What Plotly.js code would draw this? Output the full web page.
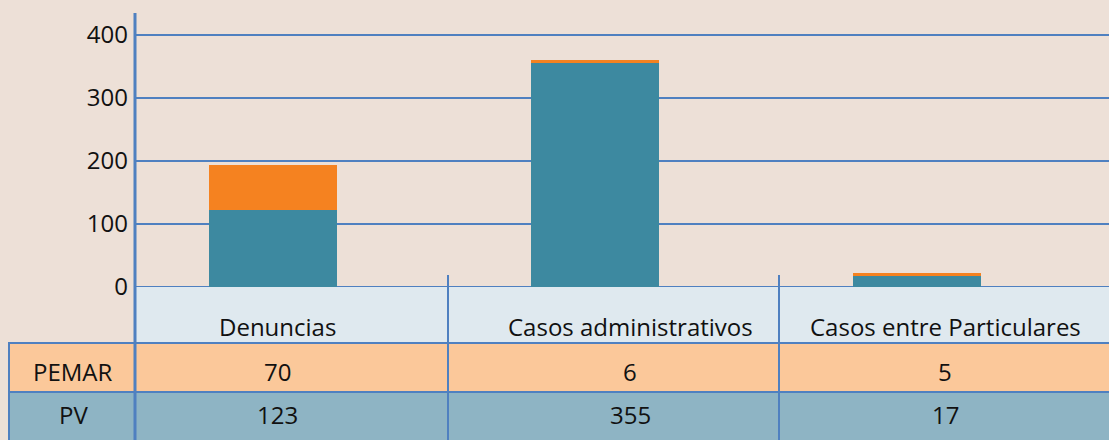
<!DOCTYPE html>
<html><head><meta charset="utf-8">
<script src="https://cdn.plot.ly/plotly-3.0.1.min.js"></script>
<style>html,body{margin:0;padding:0;background:#ede0d7;}#chart{width:1109px;height:440px;}</style>
</head><body><div id="chart"></div>
<script>
var categories = ["Denuncias", "Casos administrativos", "Casos entre Particulares"];
var seriesNames = ["PEMAR", "PV"];
var pvValues = [123, 355, 17];
var pemarValues = [70, 6, 5];
var yTicks = [0, 100, 200, 300, 400];

var W = 1109, H = 440, L = 135, T = 13, B = 153;
var pw = W - L, ph = H - T - B;
function px(x){ return (x - L) / pw; }
function py(y){ return (H - B - y) / ph; }

var blue = "#4f80c0";
var FONT = "Open Sans, Noto Sans, sans-serif";
var colTextX = [277, 630, 945];
var rowY = {header: 326, PEMAR: 371, PV: 415};

var traces = [
  {type: "bar", name: "PV", x: categories, y: pvValues, marker: {color: "#3d89a0"}, hoverinfo: "x+y+name"},
  {type: "bar", name: "PEMAR", x: categories, y: pemarValues, marker: {color: "#f58220"}, hoverinfo: "x+y+name"}
];

var shapes = [];
shapes.push({type: "rect", xref: "paper", yref: "paper", x0: 0, x1: 1, y0: py(343), y1: 0, fillcolor: "#dfe9ef", line: {width: 0}});
shapes.push({type: "rect", xref: "paper", yref: "paper", x0: px(8), x1: 1, y0: py(392), y1: py(343), fillcolor: "#fbc89a", line: {width: 0}});
shapes.push({type: "rect", xref: "paper", yref: "paper", x0: px(8), x1: 1, y0: py(440), y1: py(392), fillcolor: "#8eb4c4", line: {width: 0}});
[343, 392].forEach(function(yy){
  shapes.push({type: "line", xref: "paper", yref: "paper", x0: px(8), x1: 1, y0: py(yy), y1: py(yy), line: {color: blue, width: 2}});
});
shapes.push({type: "line", xref: "paper", yref: "paper", x0: px(9), x1: px(9), y0: py(440), y1: py(343), line: {color: blue, width: 2}});
shapes.push({type: "line", xref: "paper", yref: "paper", x0: 0, x1: 0, y0: py(440), y1: 1, line: {color: blue, width: 3}});
[448, 779].forEach(function(xx){
  shapes.push({type: "line", xref: "paper", yref: "paper", x0: px(xx), x1: px(xx), y0: py(440), y1: py(275), line: {color: blue, width: 2}});
});

var annotations = [];
var tf = {family: FONT, size: 24, color: "#111111"};
categories.forEach(function(c, i){
  annotations.push({xref: "paper", yref: "paper", x: px(colTextX[i]), y: py(rowY.header), text: c, showarrow: false, font: tf, xanchor: "center", yanchor: "middle"});
  annotations.push({xref: "paper", yref: "paper", x: px(colTextX[i]), y: py(rowY.PEMAR), text: String(pemarValues[i]), showarrow: false, font: tf, xanchor: "center", yanchor: "middle"});
  annotations.push({xref: "paper", yref: "paper", x: px(colTextX[i]), y: py(rowY.PV), text: String(pvValues[i]), showarrow: false, font: tf, xanchor: "center", yanchor: "middle"});
});
seriesNames.forEach(function(n){
  annotations.push({xref: "paper", yref: "paper", x: px(73), y: py(rowY[n]), text: n, showarrow: false, font: tf, xanchor: "center", yanchor: "middle"});
});

var layout = {
  width: W, height: H,
  margin: {l: L, r: 0, t: T, b: B, pad: 0},
  paper_bgcolor: "#ede0d7", plot_bgcolor: "#ede0d7",
  barmode: "stack", bargap: 0.605, showlegend: false,
  xaxis: {type: "category", range: [-0.4286, 2.596], showticklabels: false, showgrid: false, zeroline: false, showline: false, ticks: ""},
  yaxis: {range: [0, 435], tickvals: yTicks, ticktext: yTicks.map(String), showgrid: true, gridcolor: blue, gridwidth: 2.5,
          zeroline: true, zerolinecolor: blue, zerolinewidth: 2.5, showline: false, ticks: "", ticklabelstandoff: 6,
          tickfont: {family: FONT, size: 24, color: "#111111"}},
  shapes: shapes, annotations: annotations,
  font: {family: FONT}
};
Plotly.newPlot("chart", traces, layout, {displayModeBar: false, staticPlot: true});
</script></body></html>
